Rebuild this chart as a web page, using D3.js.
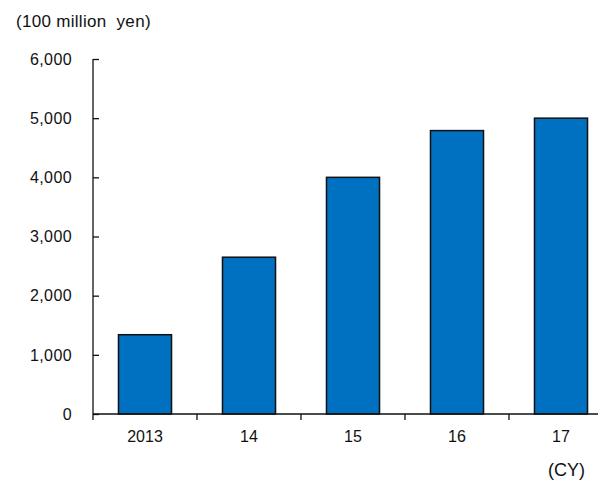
<!DOCTYPE html>
<html>
<head>
<meta charset="utf-8">
<script src="https://cdn.jsdelivr.net/npm/d3@7"></script>
<style>
  body { margin: 0; background: #fff; }
  text { font-family: "Liberation Sans", Arial, sans-serif; fill: #111; }
</style>
</head>
<body>
<div id="chart"></div>
<script>
const years = ["2013", "14", "15", "16", "17"];
const sales = [1340, 2650, 4000, 4790, 5000];
const yTicks = [0, 1000, 2000, 3000, 4000, 5000, 6000];

const W = 598, H = 482;
const margin = { top: 59, left: 93, bottom: 68 };
const height = H - margin.top - margin.bottom;

const svg = d3.select("#chart").append("svg")
  .attr("width", W).attr("height", H);

const g = svg.append("g")
  .attr("transform", `translate(${margin.left},${margin.top})`);

const x = d3.scaleBand().domain(years).range([0, 520]).padding(0);
const y = d3.scaleLinear().domain([0, 6000]).range([height, 0]);
const barW = x.bandwidth() * 0.51;

// bars
g.selectAll("rect.bar")
  .data(sales)
  .enter()
  .append("rect")
  .attr("class", "bar")
  .attr("x", (d, i) => x(years[i]) + (x.bandwidth() - barW) / 2)
  .attr("y", d => y(d))
  .attr("width", barW)
  .attr("height", d => height - y(d))
  .style("fill", "#0070C0")
  .style("stroke", "#111")
  .style("stroke-width", 1.5);

// y axis, ticks pointing inward
const yAxis = d3.axisRight(y).tickValues(yTicks).tickSize(6).tickFormat(() => "");
const ya = g.append("g").call(yAxis);
ya.select(".domain").remove();
ya.selectAll("line").attr("stroke", "#111").attr("stroke-width", 1.3);
g.append("line")
  .attr("x1", 0).attr("x2", 0)
  .attr("y1", 0).attr("y2", height + 6)
  .attr("stroke", "#111").attr("stroke-width", 1.3);

g.selectAll("text.ylab")
  .data(yTicks)
  .enter()
  .append("text")
  .attr("class", "ylab")
  .attr("x", -21)
  .attr("y", d => y(d))
  .attr("dy", "0.36em")
  .attr("text-anchor", "end")
  .style("font-size", "16px")
  .style("letter-spacing", "0.4px")
  .text(d => d3.format(",")(d));

// x axis: line plus boundary ticks
g.append("line")
  .attr("x1", 0).attr("x2", 520)
  .attr("y1", height).attr("y2", height)
  .attr("stroke", "#111").attr("stroke-width", 1.3);

g.selectAll("line.xtick")
  .data(years.slice(1))
  .enter()
  .append("line")
  .attr("class", "xtick")
  .attr("x1", d => x(d)).attr("x2", d => x(d))
  .attr("y1", height).attr("y2", height + 6)
  .attr("stroke", "#111").attr("stroke-width", 1.3);

g.selectAll("text.xlab")
  .data(years)
  .enter()
  .append("text")
  .attr("class", "xlab")
  .attr("x", d => x(d) + x.bandwidth() / 2)
  .attr("y", height + 28)
  .attr("text-anchor", "middle")
  .style("font-size", "16px")
  .text(d => d);

svg.append("text")
  .attr("x", 16).attr("y", 27)
  .style("font-size", "17px")
  .style("letter-spacing", "0.3px")
  .style("white-space", "pre")
  .text("(100 million  yen)");

svg.append("text")
  .attr("x", 585).attr("y", 476)
  .attr("text-anchor", "end")
  .style("font-size", "18px")
  .text("(CY)");
</script>
</body>
</html>
